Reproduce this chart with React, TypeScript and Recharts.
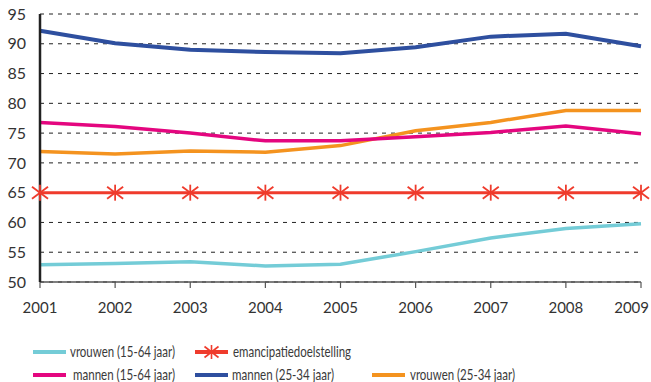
import React from "react";
import { LineChart, Line, XAxis, YAxis, CartesianGrid } from "recharts";

const years = ["2001", "2002", "2003", "2004", "2005", "2006", "2007", "2008", "2009"];
const vrouwen1564 = [52.9, 53.1, 53.4, 52.7, 53.0, 55.1, 57.4, 59.0, 59.8];
const doelstelling = [65, 65, 65, 65, 65, 65, 65, 65, 65];
const mannen1564 = [76.8, 76.1, 75.0, 73.7, 73.7, 74.4, 75.1, 76.2, 74.9];
const mannen2534 = [92.2, 90.1, 89.0, 88.6, 88.4, 89.4, 91.2, 91.7, 89.6];
const vrouwen2534 = [71.9, 71.5, 72.0, 71.8, 72.9, 75.4, 76.8, 78.8, 78.8];
const yTicks = [50, 55, 60, 65, 70, 75, 80, 85, 90, 95];

const COLORS = {
  vrouwen1564: "#74ccd7",
  doel: "#ef3b2c",
  mannen1564: "#e4067f",
  mannen2534: "#2e4f9f",
  vrouwen2534: "#f4931f",
};

const data = years.map((y, i) => ({
  year: y,
  vrouwen1564: vrouwen1564[i],
  doel: doelstelling[i],
  mannen1564: mannen1564[i],
  mannen2534: mannen2534[i],
  vrouwen2534: vrouwen2534[i],
}));

const FONT = "Lato, sans-serif";

// asterisk marker for the target line
const Star = (props: any) => {
  const { cx, cy } = props;
  if (cx == null || cy == null) return null;
  return (
    <g stroke={COLORS.doel} strokeWidth={1.8}>
      <line x1={cx} y1={cy - 8} x2={cx} y2={cy + 8} />
      <line x1={cx - 8} y1={cy - 6} x2={cx + 8} y2={cy + 6} />
      <line x1={cx - 8} y1={cy + 6} x2={cx + 8} y2={cy - 6} />
    </g>
  );
};

const XTick = (props: any) => {
  const { x, y, payload, index } = props;
  const last = index === years.length - 1;
  return (
    <text
      x={last ? x + 8 : x}
      y={y + 23}
      textAnchor={last ? "end" : "middle"}
      fontSize={15}
      fill="#333"
      fontFamily={FONT}
    >
      {payload.value}
    </text>
  );
};

// legend: swatch x, text x, row y, text width
const legendItems = [
  { key: "vrouwen1564", label: "vrouwen (15-64 jaar)", x: 33, tx: 70, y: 352, w: 105 },
  { key: "doel", label: "emancipatiedoelstelling", x: 195, tx: 233, y: 352, w: 118 },
  { key: "mannen1564", label: "mannen (15-64 jaar)", x: 33, tx: 73, y: 375, w: 102 },
  { key: "mannen2534", label: "mannen (25-34 jaar)", x: 195, tx: 232, y: 375, w: 102 },
  { key: "vrouwen2534", label: "vrouwen (25-34 jaar)", x: 372, tx: 410, y: 375, w: 105 },
];

const LegendSvg = () => (
  <svg width={651} height={382} style={{ position: "absolute", left: 0, top: 0, pointerEvents: "none" }}>
    {legendItems.map((it) => {
      const c = (COLORS as any)[it.key];
      return (
        <g key={it.key}>
          <line x1={it.x} y1={it.y} x2={it.x + 33} y2={it.y} stroke={c} strokeWidth={4} />
          {it.key === "doel" && (
            <g stroke={c} strokeWidth={1.6}>
              <line x1={it.x + 16.5} y1={it.y - 7} x2={it.x + 16.5} y2={it.y + 7} />
              <line x1={it.x + 9.5} y1={it.y - 5.5} x2={it.x + 23.5} y2={it.y + 5.5} />
              <line x1={it.x + 9.5} y1={it.y + 5.5} x2={it.x + 23.5} y2={it.y - 5.5} />
            </g>
          )}
          <text
            x={it.tx}
            y={it.y + 5}
            fontSize={15}
            fill="#3a3a3a"
            fontFamily={FONT}
            textLength={it.w}
            lengthAdjust="spacingAndGlyphs"
          >
            {it.label}
          </text>
        </g>
      );
    })}
  </svg>
);

export default function App() {
  return (
    <div style={{ position: "absolute", left: 0, top: 0, width: 651, height: 382, background: "#fff" }}>
      <LineChart
        width={651}
        height={382}
        data={data}
        margin={{ top: 14, right: 10, left: 0, bottom: 70 }}
      >
        <CartesianGrid
          horizontal
          vertical={false}
          stroke="#222"
          strokeDasharray="4 5"
          strokeWidth={1}
        />
        <XAxis
          dataKey="year"
          height={30}
          tickLine={{ stroke: "#555", strokeWidth: 1.2 }}
          tickSize={6}
          axisLine={{ stroke: "#555", strokeWidth: 1.5 }}
          tick={<XTick />}
          interval={0}
        />
        <YAxis
          width={40}
          domain={[50, 95]}
          ticks={yTicks}
          tickLine={false}
          axisLine={{ stroke: "#222", strokeWidth: 2.5 }}
          tick={{ fontSize: 16, fill: "#333", fontFamily: FONT, dx: -6 }}
        />
        <Line dataKey="doel" stroke={COLORS.doel} strokeWidth={3} dot={<Star />} isAnimationActive={false} />
        <Line dataKey="vrouwen1564" stroke={COLORS.vrouwen1564} strokeWidth={3.5} dot={false} isAnimationActive={false} />
        <Line dataKey="vrouwen2534" stroke={COLORS.vrouwen2534} strokeWidth={3.5} dot={false} isAnimationActive={false} />
        <Line dataKey="mannen1564" stroke={COLORS.mannen1564} strokeWidth={3.5} dot={false} isAnimationActive={false} />
        <Line dataKey="mannen2534" stroke={COLORS.mannen2534} strokeWidth={4} dot={false} isAnimationActive={false} />
      </LineChart>
      <LegendSvg />
    </div>
  );
}
